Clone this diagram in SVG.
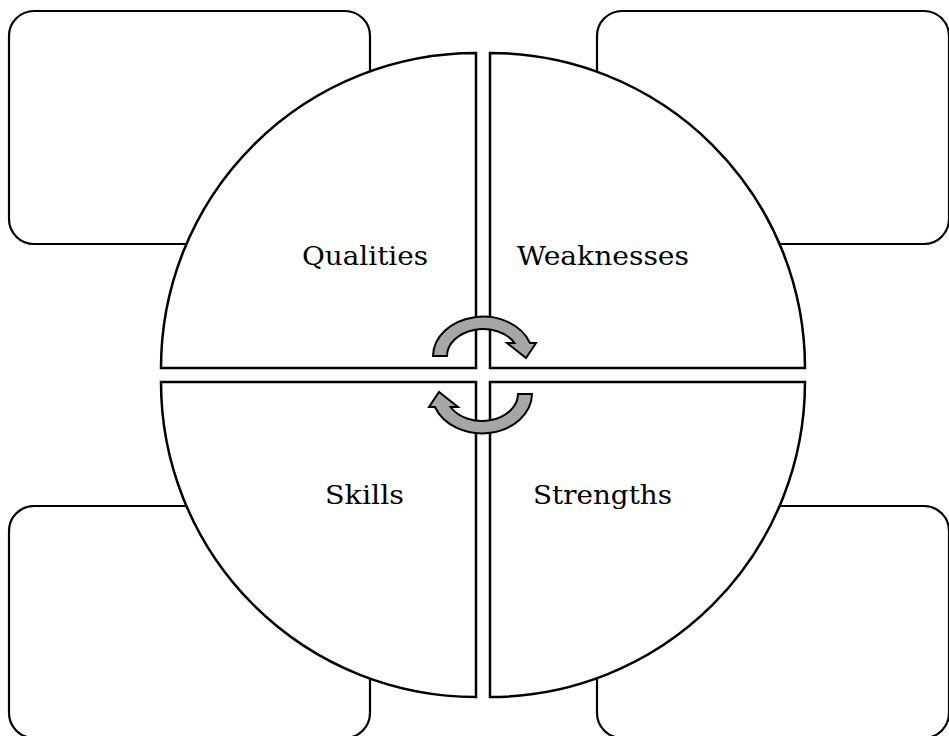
<svg xmlns="http://www.w3.org/2000/svg" width="949" height="736" viewBox="0 0 949 736">
<style>
.box{fill:#fff;stroke:#000;stroke-width:2.2}
.quad{fill:#fff;stroke:#000;stroke-width:2.5;stroke-linejoin:miter}
.arr{fill:#a6a6a6;stroke:#000;stroke-width:2;stroke-linejoin:miter}
.lbl{font-family:"DejaVu Serif","Liberation Serif",serif;font-size:25.5px;fill:#000}
</style>
<rect width="949" height="736" fill="#fff"/>
<g id="box-tl"><rect class="box" x="9" y="11" width="361" height="233" rx="25"/></g>
<g id="box-tr"><rect class="box" x="597" y="11" width="352" height="233" rx="25"/></g>
<g id="box-bl"><rect class="box" x="9" y="506" width="361" height="232" rx="25"/></g>
<g id="box-br"><rect class="box" x="597" y="506" width="352" height="232" rx="25"/></g>
<g id="q-qualities">
<path class="quad" d="M476 368 L161 368 A315 315 0 0 1 476 53 Z"/>
<text class="lbl" x="302" y="265" textLength="126" lengthAdjust="spacingAndGlyphs">Qualities</text>
</g>
<g id="q-weaknesses">
<path class="quad" d="M490 368 L490 53 A315 315 0 0 1 805 368 Z"/>
<text class="lbl" x="517" y="265" textLength="172" lengthAdjust="spacingAndGlyphs">Weaknesses</text>
</g>
<g id="q-skills">
<path class="quad" d="M476 382 L476 697 A315 315 0 0 1 161 382 Z"/>
<text class="lbl" x="325" y="504" textLength="79" lengthAdjust="spacingAndGlyphs">Skills</text>
</g>
<g id="q-strengths">
<path class="quad" d="M490 382 L805 382 A315 315 0 0 1 490 697 Z"/>
<text class="lbl" x="533" y="504" textLength="139" lengthAdjust="spacingAndGlyphs">Strengths</text>
</g>
<g id="connectors">
<path id="arrow-top" class="arr" d="M433 356 A50 40 0 0 1 530 343 L536 343 L526 358 L507 343 L514.5 343 A36 27 0 0 0 447 356 Z"/>
<path id="arrow-bottom" class="arr" transform="rotate(180 482.5 375)" d="M433 356 A50 40 0 0 1 530 343 L536 343 L526 358 L507 343 L514.5 343 A36 27 0 0 0 447 356 Z"/>
</g>
</svg>
